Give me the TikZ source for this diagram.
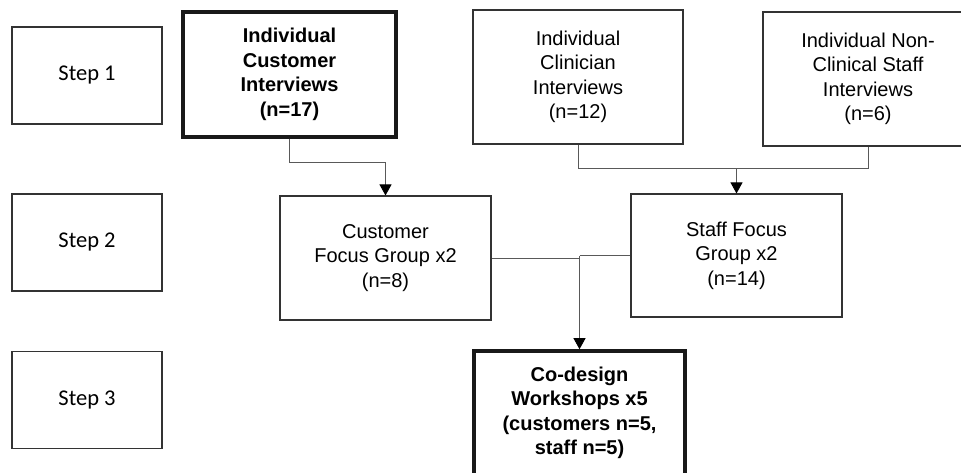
\documentclass[tikz,border=0pt]{standalone}
\usepackage{fontspec}
\setmainfont{Liberation Sans}
\newfontfamily\stepfont{Carlito}
\usepackage{tikz}
\usetikzlibrary{positioning, arrows.meta}
\tikzset{
  process/.style={
  rectangle,
  draw=black!80,
  line width=1.1pt,
  align=center,
  inner sep=0pt,
  minimum width=211pt,
  minimum height=124pt,
  font=\fontsize{20}{24.5}\selectfont
  },
keybox/.style={
  process,
  line width=3.6pt,
  draw=black!90,
  font=\fontsize{20}{24.5}\selectfont\bfseries
},
stepbox/.style={
  rectangle,
  draw=black!80,
  line width=1.1pt,
  minimum width=150pt,
  minimum height=97pt,
  font=\stepfont\fontsize{22.5}{26}\selectfont
},
link/.style={
  draw=black!65,
  line width=0.9pt
},
arrow/.style={
  link,
  -{Triangle[length=11pt,width=12pt,black]}
}
        }

\begin{document}
\begin{tikzpicture}[x=1pt, y=-1pt]

\useasboundingbox (0,0) rectangle (961,473);

% Nodes
\node (step1) [stepbox] at (87,75.5) {Step 1};
\node (step2) [stepbox] at (87,242.5) {Step 2};
\node (step3) [stepbox] at (87,400) {Step 3};

\node (custint) [keybox, minimum width=213pt, minimum height=125pt] at (289.5,74.5) {Individual\\Customer\\Interviews\\(n=17)};
\node (clinint) [process, minimum width=210pt, minimum height=134pt] at (578,77) {Individual\\Clinician\\Interviews\\(n=12)};
\node (staffint) [process, minimum width=210pt, minimum height=134pt] at (868,79) {Individual Non-\\Clinical Staff\\Interviews\\(n=6)};

\node (custfg) [process] at (385.5,258) {Customer\\Focus Group x2\\(n=8)};
\node (stafffg) [process, minimum height=123pt] at (736.5,255.5) {Staff Focus\\Group x2\\(n=14)};

\node (codesign) [keybox] at (579.5,413) {Co-design\\Workshops x5\\(customers n=5,\\staff n=5)};

% Arrows
\draw [arrow] (custint.south) -- ++(0,24) -| (custfg.north);

\draw [link] (clinint.south) -- ++(0,24) coordinate (clinstub) -| (staffint.south);
\draw [arrow] (clinstub -| stafffg.north) -- (stafffg.north);

\draw [link] (custfg.east) -- (custfg.east -| codesign.north);
\draw [link] (stafffg.west) -- (stafffg.west -| codesign.north) coordinate (fgstub);
\draw [arrow] (fgstub) -- (codesign.north);

\end{tikzpicture}
\end{document}
